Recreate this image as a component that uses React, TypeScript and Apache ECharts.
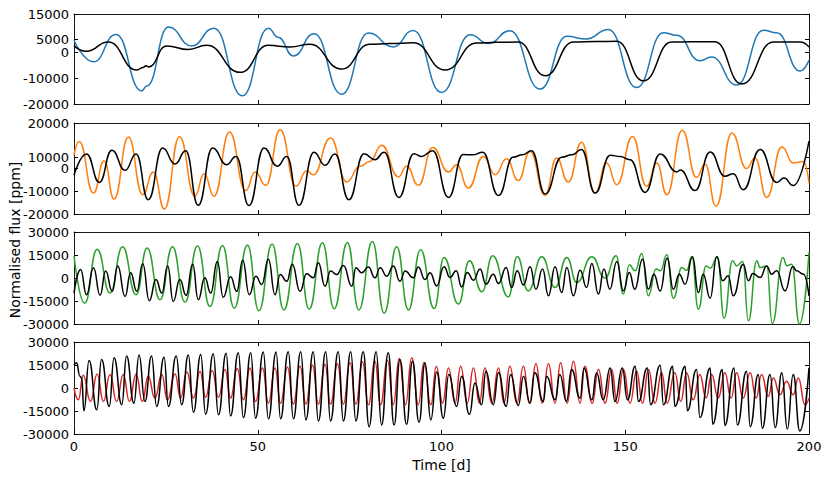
import React, { useEffect, useRef } from "react";
import * as echarts from "echarts";

type P = [number, number];

// Panel 1 (blue model vs black)
const blue1: P[] = [
  [0, 4700], [5.3, -3600], [11.4, 7000], [18.4, -14900], [19.8, -13000], [25.7, 9900], [32, 2600],
  [38.1, 9500], [45.8, -16800], [52.9, 9500], [55.5, 6000], [59.7, -1300], [65.3, 7300], [72.8, -16200],
  [80.1, 7600], [86.9, 2200], [92.3, 8600], [100, -15500], [107.8, 6900], [112.8, 3500], [118.6, 8500],
  [126.8, -14200], [134.1, 6300], [139.4, 5300], [145.4, 9000], [153.1, -13600], [160.4, 7700], [164, 6700],
  [170.3, -3200], [173.5, -1700], [180.3, -12600], [187.6, 8700], [191.2, 7700], [197.6, -7200], [200, -3000],
];
const black1: P[] = [
  [0, 2600], [3.4, 500], [9.3, 4100], [17.1, -6800], [18.8, -5800], [19.6, -5100], [20.3, -5600],
  [25.2, 2600], [31.1, 1200], [36.1, 2800], [45.2, -7700], [52.9, 2800], [58.8, 2200], [64.2, 3200],
  [72.8, -6400], [80.5, 3200], [86, 3500], [92.3, 3800], [101, -6800], [109.6, 3700], [115, 4000],
  [120.9, 4100], [128.2, -9000], [135.9, 4100], [142, 4300], [147.7, 4400], [154.9, -11000], [162.6, 4100],
  [168, 4200], [174.4, 4200], [181.7, -12200], [190.3, 4100], [197.6, 4100], [200, 2200],
];

// Panel 2 (orange vs black)
const orange2: P[] = [
  [0, 6000], [1.4, 11900], [5.3, -10800], [8.2, 3400], [10.9, -13400], [14.8, 13800], [18.7, -11500],
  [21.6, -1500], [24.6, -17800], [28.7, 14000], [32.9, -12200], [35.4, -2300], [38.1, -12200], [42.3, 16000],
  [46.7, -9700], [49.3, -1500], [52.2, -7400], [56.1, 17000], [60.4, -7800], [63.3, -1000], [65.1, -2700],
  [69.8, 13400], [74.2, -5900], [77.8, 1000], [80.5, 3100], [83.7, 10200], [88.3, -3700], [90.5, 1000],
  [93.7, -7400], [97.6, 9200], [101.9, -1500], [104.1, 1700], [107.3, -8600], [111.4, 5300], [114.6, -2700],
  [117.7, 4300], [120.9, -5300], [124.1, 7500], [128.2, -11800], [131.3, 4600], [134.5, -5900], [138.1, 11500],
  [141.8, -10800], [144.9, 2400], [147.7, -7100], [152, 14100], [155.8, -7800], [158.6, 2400], [161.3, -11500],
  [165.5, 16800], [169.4, -3900], [171.7, 2000], [174.7, -16600], [179, 15600], [183, 0], [185.3, 4600],
  [188.5, -12700], [192.6, 9400], [195.7, 2400], [198.5, 3100], [200, -6400],
];
const black2: P[] = [
  [0, -3000], [3.4, 6400], [6.9, -6100], [10.3, 8000], [13.9, -800], [16.9, 6400], [20.2, -13700],
  [24.1, 9000], [27.5, 2000], [30.4, 7800], [33.8, -16200], [37.7, 9000], [41.5, 1700], [44.1, 5300],
  [47.6, -16300], [51.7, 9000], [55.3, 1000], [57.9, 5300], [61.2, -16200], [65.3, 7100], [68.3, 1400],
  [71, 6400], [74.8, -13700], [78.9, 6500], [81.9, 3900], [84.4, 7100], [88.4, -12700], [92.5, 6500],
  [94.6, 5300], [97.6, 7800], [101.9, -12700], [105.9, 6100], [108.5, 6000], [111.2, 7100], [115.5, -11900],
  [119.5, 5000], [122, 6000], [124.5, 7800], [128.2, -11200], [132.7, 5000], [135.5, 6000], [138.1, 8300],
  [141.8, -10800], [145.9, 5800], [148.6, 5300], [151.3, 3900], [155.4, -10500], [159.5, 6400], [164, -1500],
  [165, -700], [169, -9700], [173.1, 7200], [177.1, -3400], [179.4, -2300], [182.1, -9300], [186.7, 8300],
  [191.2, -6100], [193.2, -4200], [195.7, -7500], [200, 12000],
];

// Panel 3 (green vs black)
const green3: P[] = [
  [0, 14400], [2.9, -16400], [6.3, 18800], [9.8, -9800], [13.2, 20300], [16.9, -10900], [19.9, 19500],
  [23.4, -14200], [26.8, 20300], [30.2, -15700], [33.6, 20800], [37, -18600], [40.4, 21200], [43.6, -19700],
  [47.2, 21600], [50.3, -21400], [53.9, 22100], [57.1, -20800], [60.8, 22500], [64, -20300], [67.6, 23000],
  [70.8, -20100], [74.4, 23200], [77.5, -20800], [81.2, 23800], [84.4, -23000], [87.8, 20300], [91, -20800],
  [94.3, 18400], [98, -19900], [100.7, 13400], [104.6, -17000], [107.6, 11200], [111, -9000], [113.9, 14500],
  [118.2, -12300], [120.6, 14000], [123.6, -8400], [127.3, 13800], [130.9, -6200], [134.1, 13400],
  [136.8, -2900], [140.9, 13800], [144.5, 0], [147.5, 14500], [149.5, -10500], [151.1, 8600], [152.7, 4700],
  [154.5, 16000], [156.3, -11600], [158.4, 5800], [159.6, 4700], [161.3, 15100], [163.1, -13200],
  [165.4, 6800], [166.7, 5000], [168.1, 13800], [169.9, -20300], [172, 7900], [173.1, 6500], [175.1, 13800],
  [176.9, -26200], [179.2, 11200], [180.3, 8000], [182, 10800], [183.5, -27900], [185.8, 11200],
  [186.7, 6800], [188.5, 7900], [190, -29700], [192.9, 13400], [194, 8000], [195.3, 9000], [197.4, -30000],
  [200, 16600],
];
const black3: P[] = [
  [0, -9800], [1.8, 5600], [3.4, -10900], [5.3, 6700], [7.1, -11300], [8.6, 4500], [10.4, -8700],
  [11.9, 7800], [13.9, -12000], [15.4, 3400], [17.1, -8700], [18.7, 9300], [20.5, -14800], [22.3, -1000],
  [23.9, -9800], [25.5, 7800], [27, -15300], [28.8, -1000], [30.5, -11300], [32.3, 8900], [33.8, -14200],
  [35.6, 100], [37.2, -9800], [39, 10700], [40.6, -12600], [42.6, 800], [44.3, -8700], [45.9, 11500],
  [47.7, -10900], [49.5, 1200], [51.1, -4300], [52.9, 12200], [54.7, -10900], [56.1, 2300], [57.9, -2100],
  [59.4, 8900], [61.5, -8700], [63.3, 2700], [65.1, 100], [66.5, 10000], [68.3, -5400], [69.8, 4500],
  [71.5, 2300], [73.3, 8200], [75.6, -5400], [76.7, 6700], [78.3, 3400], [80.1, 7100], [81.9, 100],
  [83.3, 6700], [85.1, 1200], [86.9, 7800], [88.7, -2100], [90.1, 4500], [92.3, 100], [93.7, 7100],
  [95.5, -1000], [96.9, 3500], [98.7, -5200], [100.7, 7300], [102.3, 300], [104, 4700], [105.5, -5800],
  [107, 3600], [108.7, -1400], [110.5, 5800], [112.1, -4000], [114.1, 2500], [115.5, -3600], [117.6, 6800],
  [119.1, -6200], [120.6, 4700], [122.3, -4500], [124.1, 7300], [125.7, -7300], [127.5, 5800],
  [129.1, -11600], [130.9, 7300], [132.7, -9500], [134.1, 6800], [135.9, -11600], [137.7, 5100],
  [139.5, -6200], [140.9, 9500], [142.7, -10500], [144.2, 5800], [145.8, -7300], [147.7, 10800],
  [149.5, -8400], [151.1, 3600], [152.6, -7300], [154.7, 12300], [156.3, -7300], [157.8, 2500],
  [159.5, -8400], [161.4, 12900], [163.1, -7300], [164.7, 2500], [166.3, -4000], [168.3, 13800],
  [169.9, -9500], [171.2, 2500], [173.1, -13200], [174.9, 13800], [176.5, -1800], [178, 1400],
  [179.4, -11600], [182.1, 9000], [183.5, -1800], [184.7, 2900], [186.7, 300], [188.5, 7900], [189.8, 2500],
  [191.2, 4700], [193.5, -8400], [195.6, 7500], [196.6, 4700], [198.5, 2500], [200, -11600],
];

// Panel 4 (red vs black)
const red4: P[] = [
  [0, 0], [1.2, -7700], [2.5, 8300], [4.5, -8800], [6.3, 9200], [8, -8800], [9.8, 8800], [11.6, -8800],
  [13.4, 8800], [15.1, -8800], [16.9, 9200], [18.6, -8800], [20.2, 7700], [22, -6600], [23.9, 8800],
  [25.4, -7700], [27.5, 9200], [29, -6600], [30.7, 10500], [32.5, -6600], [34.3, 10900], [35.8, -6100],
  [37.6, 11400], [39.3, -6100], [41.1, 12000], [42.6, -6600], [44.4, 12700], [46.1, -7700], [47.9, 13100],
  [49.4, -8800], [51.3, 13100], [52.9, -9900], [54.7, 13100], [56.2, -9900], [58.1, 13600], [59.7, -10500],
  [61.5, 14200], [63.1, -10500], [64.9, 14900], [66.5, -10500], [68.3, 15300], [69.8, -10500],
  [71.7, 15800], [73.3, -10500], [75.1, 16400], [76.7, -10500], [78.5, 17100], [80.1, -10900],
  [81.9, 17500], [83.4, -10900], [85.3, 18000], [86.9, -10900], [88.5, 19300], [90.2, -10900],
  [91.9, 19700], [93.7, -10900], [95.2, 16400], [97.1, -10900], [98.6, 14000], [100.3, -9900],
  [101.9, 13100], [103.7, -9900], [105.2, 14200], [107, -9900], [108.7, 13100], [110.3, -9900],
  [111.8, 13100], [113.7, -9900], [115.5, 13100], [117, -9900], [118.6, 14200], [120.5, -9900],
  [122.3, 14200], [123.9, -9900], [125.7, 15800], [127.4, -9900], [129.1, 15800], [130.9, -9900],
  [132.4, 16400], [134.2, -9900], [135.9, 17500], [137.7, -9900], [139, 14200], [141, -9900],
  [142.7, 12000], [144.5, -9900], [146.3, 12000], [147.8, -9900], [149.5, 12000], [151.3, -9900],
  [153.1, 10900], [154.7, -9900], [156.3, 12000], [158.1, -9900], [159.9, 9900], [161.4, -9900],
  [163.5, 9900], [165.1, -8800], [166.7, 9900], [168.5, -7700], [170.3, 8800], [172, -6600], [173.5, 8800],
  [175.3, -6600], [177.1, 9900], [178.8, -6600], [180.3, 9900], [182.1, -6600], [184, 9900], [185.6, -6600],
  [187.1, 8800], [188.9, -5500], [190.3, 6600], [192.1, -4400], [193.9, 4400], [195.7, -4400],
  [197.1, 6600], [198.9, -10900], [200, -6600],
];
const black4: P[] = [
  [0, 15000], [0.7, 16400], [1.6, 7700], [2.1, 6600], [2.7, -14900], [4.1, 18000], [6.2, -14200],
  [7.5, 18600], [9.6, -12000], [10.9, 19700], [13, -10900], [14.3, 20800], [16.3, -9900], [17.7, 21500],
  [19.3, -8800], [21.1, 20800], [22.5, -12000], [24.5, 20100], [25.7, -12000], [27.8, 20800],
  [29.3, -10900], [31.1, 21500], [32.5, -15800], [34.5, 21900], [35.8, -17100], [37.9, 22300],
  [39.3, -17500], [41.4, 22600], [42.6, -18200], [44.7, 23000], [46.1, -19300], [48.1, 23000],
  [49.4, -19700], [51.5, 23400], [52.9, -20100], [55, 23400], [56.2, -20100], [58.3, 23600], [59.7, -20100],
  [61.7, 23600], [63.1, -20800], [65.1, 23600], [66.5, -21500], [68.5, 23600], [69.8, -21500],
  [71.9, 23600], [73.3, -21500], [75.3, 23600], [76.7, -21500], [78.7, 23600], [80.3, -25200],
  [82.2, 23600], [83.7, -24100], [85.5, 23000], [87.1, -24100], [88.7, 18600], [90.5, -23600],
  [92.1, 17500], [93.9, -22300], [95.5, 16400], [97.1, -20800], [98.7, 10400], [100.5, -19700],
  [102, 8800], [104.1, -12000], [105.5, 7700], [107.6, -17100], [109.1, 3300], [110.9, -10900],
  [112.1, 10900], [114.1, -10900], [115.5, 9900], [117.6, -12000], [118.8, 8800], [120.9, -11400],
  [122.3, 7700], [124.1, -9900], [125.4, 9900], [127.7, -8800], [128.6, 7700], [130.9, -7700],
  [132.2, 8800], [134, -8800], [135.4, 12000], [137.7, -6600], [138.8, 13100], [140.9, -7700],
  [142.2, 9900], [144, -7700], [145.9, 13100], [147.2, -8800], [149.2, 13100], [150.6, -7700],
  [152.7, 14200], [153.6, -8800], [156, 13100], [156.9, -10900], [159.5, 14900], [160.4, -10900],
  [162.9, 14200], [163.5, -12000], [166.3, 14200], [166.9, -14900], [169.4, 12000], [170.3, -19300],
  [173.1, 13100], [173.8, -23600], [176.4, 12000], [177.1, -24500], [179.6, 13100], [180.5, -24100],
  [183, 10900], [184, -25200], [186.2, 8800], [187.3, -26300], [189.4, 8800], [190.8, -25800],
  [192.6, 9900], [194.1, -26700], [195.7, 8800], [197.5, -28000], [200, 13100],
];

const xTicks = [0, 50, 100, 150, 200];
const yTicks1 = [-20000, -10000, 0, 5000, 15000];
const yTicks2 = [-20000, -10000, 0, 5000, 20000];
const yLabels2: Record<number, string> = { [-20000]: "-20000", [-10000]: "-10000", 0: "0", 5000: "10000", 20000: "20000" };
const yTicks34 = [-30000, -15000, 0, 15000, 30000];

const FONT = "DejaVu Sans";

export default function App() {
  const ref = useRef<HTMLDivElement>(null);
  useEffect(() => {
    if (!ref.current) return;
    const chart = echarts.init(ref.current, undefined, { renderer: "svg" });
    const grids = [
      { left: 74, top: 14, width: 735, height: 90 },
      { left: 74, top: 123, width: 735, height: 91 },
      { left: 74, top: 232, width: 735, height: 92 },
      { left: 74, top: 342, width: 735, height: 92 },
    ];
    const panels = [
      { min: -20000, max: 15000, ticks: yTicks1, fmt: (v: number) => String(v), color: "#1f77b4", data: blue1, black: black1 },
      { min: -20000, max: 20000, ticks: yTicks2, fmt: (v: number) => yLabels2[v] ?? String(v), color: "#ff7f0e", data: orange2, black: black2 },
      { min: -30000, max: 30000, ticks: yTicks34, fmt: (v: number) => String(v), color: "#2ca02c", data: green3, black: black3 },
      { min: -30000, max: 30000, ticks: yTicks34, fmt: (v: number) => String(v), color: "#d62728", data: red4, black: black4 },
    ];
    const axisLine = { show: true, onZero: false, lineStyle: { color: "#000", width: 0.9 } };
    const xAxis: any[] = [];
    const yAxis: any[] = [];
    const series: any[] = [];
    panels.forEach((p, i) => {
      const last = i === 3;
      xAxis.push({
        type: "value", gridIndex: i, min: 0, max: 200, position: "bottom",
        axisLine,
        axisTick: { show: true, inside: true, length: 4, customValues: xTicks, lineStyle: { color: "#000" } },
        axisLabel: { show: last, customValues: xTicks, color: "#000", fontFamily: FONT, fontSize: 13, margin: 6 },
        splitLine: { show: false },
        name: last ? "Time [d]" : "",
        nameLocation: "middle", nameGap: 24,
        nameTextStyle: { color: "#000", fontFamily: FONT, fontSize: 14 },
      });
      xAxis.push({
        type: "value", gridIndex: i, min: 0, max: 200, position: "top",
        axisLine,
        axisTick: { show: true, inside: true, length: 4, customValues: xTicks, lineStyle: { color: "#000" } },
        axisLabel: { show: false },
        splitLine: { show: false },
      });
      yAxis.push({
        type: "value", gridIndex: i, min: p.min, max: p.max, position: "left",
        axisLine,
        axisTick: { show: true, inside: true, length: 4, customValues: p.ticks, lineStyle: { color: "#000" } },
        axisLabel: { show: true, customValues: p.ticks, formatter: p.fmt, color: "#000", fontFamily: FONT, fontSize: 13, margin: 5 },
        splitLine: { show: false },
      });
      yAxis.push({
        type: "value", gridIndex: i, min: p.min, max: p.max, position: "right",
        axisLine,
        axisTick: { show: true, inside: true, length: 4, customValues: p.ticks, lineStyle: { color: "#000" } },
        axisLabel: { show: false },
        splitLine: { show: false },
      });
      const common = { type: "line", xAxisIndex: i * 2, yAxisIndex: i * 2, showSymbol: false, smooth: 0.5, smoothMonotone: "x", silent: true };
      series.push({ ...common, data: p.data, lineStyle: { color: p.color, width: 1.5 } });
      series.push({ ...common, data: p.black, lineStyle: { color: "#000", width: 1.5 } });
    });
    chart.setOption({
      animation: false,
      backgroundColor: "#fff",
      grid: grids,
      xAxis,
      yAxis,
      series,
      graphic: [
        {
          type: "text", x: 15, y: 240, rotation: Math.PI / 2,
          style: { text: "Normalised flux [ppm]", fill: "#000", font: `14px '${FONT}'`, textAlign: "center", textVerticalAlign: "middle" },
        },
      ],
    });
    return () => chart.dispose();
  }, []);
  return <div ref={ref} style={{ position: "fixed", left: 0, top: 0, width: 830, height: 480 }} />;
}
